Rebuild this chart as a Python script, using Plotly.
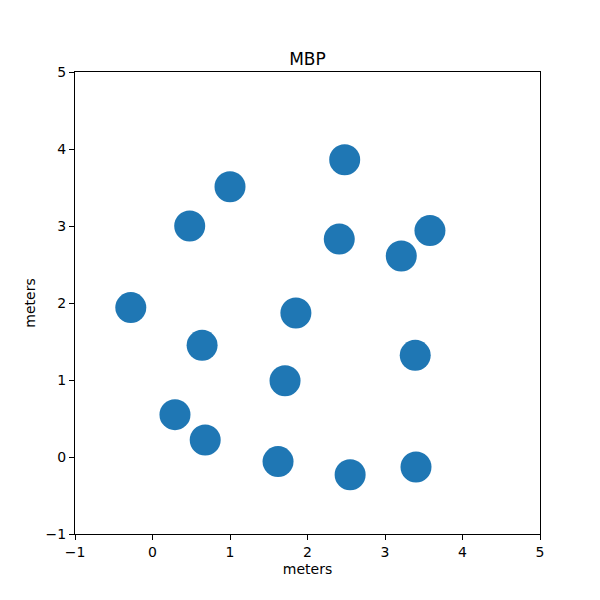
import plotly.graph_objects as go

# point positions in meters
xs = [2.48, 1.00, 0.48, 2.41, 3.58, 3.21, -0.28, 1.85, 0.64, 3.39, 1.71, 0.29, 0.68, 1.62, 2.55, 3.40]
ys = [3.86, 3.51, 3.00, 2.83, 2.94, 2.61, 1.94, 1.87, 1.45, 1.32, 0.99, 0.55, 0.22, -0.06, -0.23, -0.13]
tickvals = [-1, 0, 1, 2, 3, 4, 5]

fig = go.Figure(go.Scatter(
    x=xs, y=ys, mode='markers',
    marker=dict(size=31, color='#1f77b4', line=dict(width=0)),
    showlegend=False
))

axis_style = dict(
    range=[-1, 5], tickvals=tickvals, showgrid=False, zeroline=False,
    showline=True, linecolor='black', linewidth=1, mirror=True,
    ticks='outside', ticklen=5, tickcolor='black', tickwidth=1,
    tickfont=dict(size=14, color='black'),
)

fig.update_layout(
    width=600, height=600,
    # page body has an 8px margin, so shift everything up/left
    margin=dict(l=67, r=68, t=64, b=74),
    paper_bgcolor='white', plot_bgcolor='white',
    font=dict(family='DejaVu Sans', color='black'),
    title=dict(text='MBP', x=0.5, xanchor='center', xref='paper',
               y=1, yref='paper', yanchor='bottom', pad=dict(b=7),
               font=dict(size=17)),
    xaxis=dict(axis_style, title=dict(text='meters', font=dict(size=14), standoff=5)),
    yaxis=dict(axis_style, title=dict(text='meters', font=dict(size=14), standoff=6)),
)

fig.write_html("out.html")
